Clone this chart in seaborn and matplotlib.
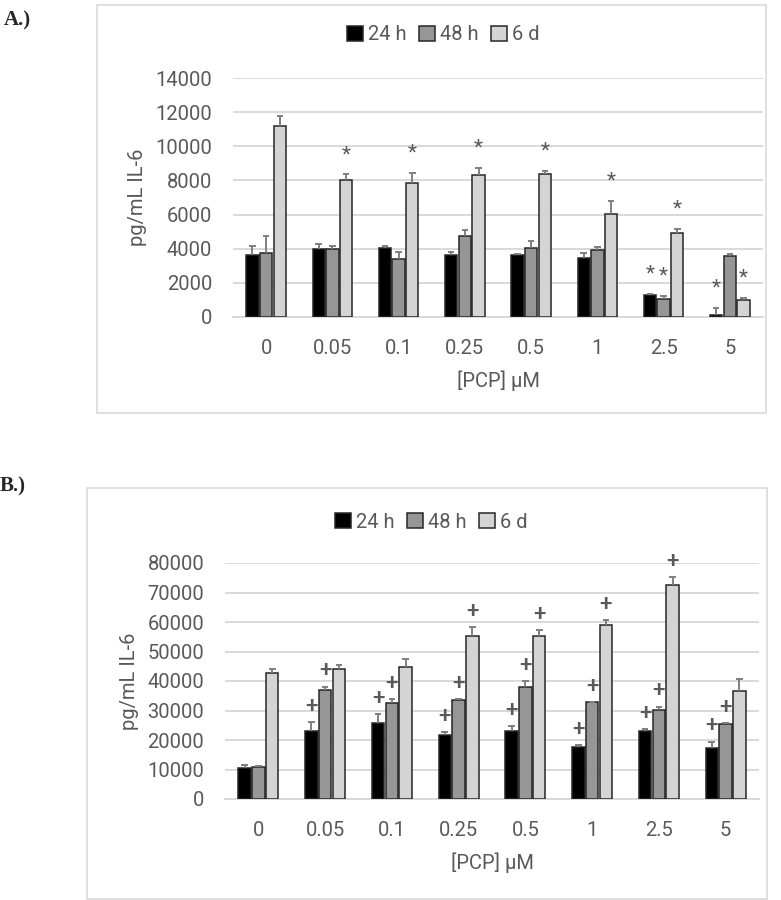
import matplotlib
matplotlib.use("Agg")
import matplotlib.pyplot as plt
import seaborn as sns
import pandas as pd
import numpy as np
from matplotlib.patches import Rectangle

# --- datos ---
doses = ["0", "0.05", "0.1", "0.25", "0.5", "1", "2.5", "5"]
times = ["24 h", "48 h", "6 d"]

a_24h = [3650, 4000, 4020, 3610, 3610, 3430, 1300, 120]
a_48h = [3740, 4000, 3410, 4730, 4060, 3940, 1060, 3560]
a_6d = [11210, 8020, 7840, 8320, 8370, 6030, 4940, 1020]
a_24h_err = [490, 280, 140, 220, 100, 340, 40, 410]
a_48h_err = [1000, 160, 370, 360, 410, 180, 180, 120]
a_6d_err = [570, 340, 590, 430, 200, 770, 240, 100]
# marcas de significancia (*)
a_sig_24h = [0, 0, 0, 0, 0, 0, 1, 1]
a_sig_48h = [0, 0, 0, 0, 0, 0, 1, 0]
a_sig_6d = [0, 1, 1, 1, 1, 1, 1, 1]

b_24h = [10480, 23210, 25690, 21630, 23100, 17470, 23210, 17350]
b_48h = [10820, 37070, 32560, 33470, 37970, 32790, 30090, 25350]
b_6d = [42700, 44060, 44730, 55100, 55100, 58820, 72450, 36730]
b_24h_err = [1010, 2930, 3150, 1010, 1580, 900, 450, 2140]
b_48h_err = [450, 1010, 1350, 340, 1920, 110, 1240, 340]
b_6d_err = [1350, 1240, 2700, 3040, 2030, 1920, 2820, 3830]
# marcas de significancia (+)
b_sig_24h = [0, 1, 1, 1, 1, 1, 1, 1]
b_sig_48h = [0, 1, 1, 1, 1, 1, 1, 1]
b_sig_6d = [0, 0, 0, 1, 1, 1, 1, 0]

colores = ["#000000", "#969696", "#d4d4d4"]
gris_txt = "#595959"


def armar_df(v24, v48, v6):
  filas = []
  for t, vals in zip(times, [v24, v48, v6]):
    for d, v in zip(doses, vals):
      filas.append({"dose": d, "time": t, "value": v})
  return pd.DataFrame(filas)


def grafico(ax, df, errs, sigs, simbolo, ymax, paso, offset, sym_size, sym_weight):
  sns.barplot(data=df, x="dose", y="value", hue="time", order=doses, hue_order=times,
              palette=colores, width=0.62, gap=0.1, errorbar=None,
              edgecolor="#262626", linewidth=1.1, saturation=1, ax=ax, zorder=3)

  for cont, err, sig in zip(ax.containers, errs, sigs):
    xs = np.array([p.get_x() + p.get_width() / 2 for p in cont])
    ys = np.array([p.get_height() for p in cont])
    err = np.array(err)
    ax.vlines(xs, ys, ys + err, color="#7f7f7f", linewidth=1.4, zorder=4)
    ax.hlines(ys + err, xs - 0.05, xs + 0.05, color="#7f7f7f", linewidth=1.4, zorder=4)
    for x, y, s in zip(xs, ys + err, sig):
      if s:
        ax.text(x, y + offset, simbolo, ha="center", va="center", fontweight=sym_weight,
                fontsize=sym_size, color=gris_txt, zorder=5)

  ax.set_ylim(0, ymax)
  ax.set_xlim(-0.5, len(doses) - 0.5)
  ax.set_yticks(np.arange(0, ymax + 1, paso))
  ax.yaxis.grid(True, color="#d9d9d9", linewidth=1.4, zorder=0)
  ax.xaxis.grid(False)
  ax.set_axisbelow(True)
  for s in ["top", "right", "left"]:
    ax.spines[s].set_visible(False)
  ax.spines["bottom"].set_color("#d9d9d9")
  ax.spines["bottom"].set_linewidth(1.4)
  ax.tick_params(length=0, labelsize=14.5, colors=gris_txt)
  ax.tick_params(axis="y", pad=15)
  ax.tick_params(axis="x", pad=16)
  ax.set_xlabel("[PCP] µM", fontsize=14.5, color=gris_txt, labelpad=9)
  ax.set_ylabel("pg/mL IL-6", fontsize=14.5, color=gris_txt, labelpad=6)

  handles, labels = ax.get_legend_handles_labels()
  ax.legend_.remove()
  return handles, labels


sns.set_theme(style="white")
plt.rcParams["font.family"] = ["Roboto", "DejaVu Sans"]

fig = plt.figure(figsize=(7.81, 9), dpi=100)

ax1 = fig.add_axes([233 / 781, 583 / 900, 530 / 781, 239 / 900])
ax2 = fig.add_axes([225 / 781, 101 / 900, 534 / 781, 236 / 900])

df_a = armar_df(a_24h, a_48h, a_6d)
df_b = armar_df(b_24h, b_48h, b_6d)

h, l = grafico(ax1, df_a, [a_24h_err, a_48h_err, a_6d_err],
               [a_sig_24h, a_sig_48h, a_sig_6d], "*", 14000, 2000, 1150, 15, "normal")
grafico(ax2, df_b, [b_24h_err, b_48h_err, b_6d_err],
        [b_sig_24h, b_sig_48h, b_sig_6d], "+", 80000, 10000, 5000, 16, "medium")

for xcen, ycen in [(443 / 781, 865 / 900), (431 / 781, 378 / 900)]:
  fig.legend(h, l, loc="center", bbox_to_anchor=(xcen, ycen), ncol=3, frameon=False,
             fontsize=14.5, labelcolor=gris_txt, handlelength=0.8, handleheight=0.8,
             handletextpad=0.25, columnspacing=0.6)

# marcos de cada panel
fig.add_artist(Rectangle((97 / 781, 487 / 900), 669 / 781, 408 / 900, transform=fig.transFigure,
                         fill=False, edgecolor="#d9d9d9", linewidth=1.2))
fig.add_artist(Rectangle((87 / 781, 1 / 900), 680 / 781, 411 / 900, transform=fig.transFigure,
                         fill=False, edgecolor="#d9d9d9", linewidth=1.2))

fig.text(4 / 781, 1 - 20 / 900, "A.)", fontsize=15, fontweight="bold",
         family="Liberation Serif", va="center")
fig.text(0 / 781, 1 - 486 / 900, "B.)", fontsize=15, fontweight="bold",
         family="Liberation Serif", va="center")

plt.savefig("out.png", dpi=100)
